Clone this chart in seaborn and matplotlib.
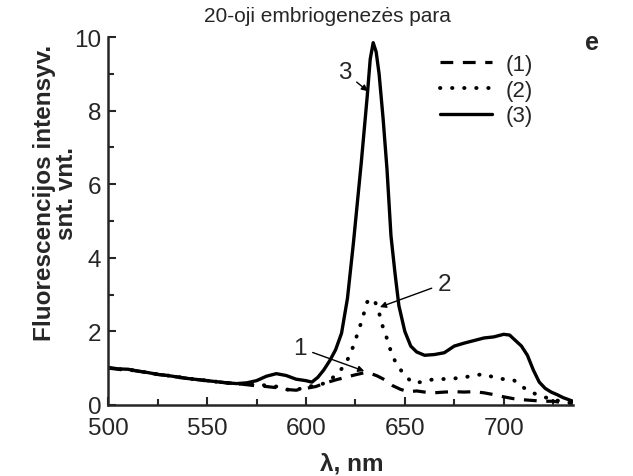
import matplotlib
matplotlib.use("Agg")
import matplotlib.pyplot as plt
import seaborn as sns
import pandas as pd
from matplotlib.ticker import MultipleLocator
from matplotlib.lines import Line2D

# ---- data ----
x3 = [500, 505, 510, 515, 520, 525, 530, 535, 540, 545, 550, 555, 560, 565, 570, 575, 580, 585,
      590, 595, 600, 603, 606, 609, 612, 615, 618, 621, 624, 626, 628, 630, 631, 632.5, 634,
      635.5, 637, 639, 641, 643, 645, 647, 650, 653, 656, 660, 665, 670, 675, 680, 685, 690,
      695, 700, 703, 706, 709, 712, 715, 718, 721, 724, 727, 730, 735]
y3 = [1.02, 0.98, 0.97, 0.92, 0.88, 0.83, 0.80, 0.76, 0.72, 0.69, 0.66, 0.63, 0.60, 0.58, 0.60,
      0.66, 0.78, 0.85, 0.80, 0.70, 0.66, 0.62, 0.75, 0.95, 1.20, 1.50, 1.95, 2.90, 4.40, 5.50,
      6.60, 7.80, 8.40, 9.40, 9.85, 9.60, 9.00, 7.80, 6.40, 4.60, 3.60, 2.70, 2.00, 1.60, 1.44,
      1.35, 1.37, 1.42, 1.60, 1.68, 1.75, 1.82, 1.85, 1.92, 1.90, 1.75, 1.60, 1.35, 0.95, 0.62,
      0.45, 0.35, 0.28, 0.20, 0.10]

x2 = [500, 505, 510, 515, 520, 525, 530, 535, 540, 545, 550, 555, 560, 565, 570, 575, 580, 585,
      590, 595, 600, 605, 610, 615, 620, 624, 628, 631, 633, 635, 637, 639, 641, 643, 645, 647,
      650, 654, 658, 662, 668, 675, 680, 685, 690, 695, 700, 705, 708, 712, 716, 720, 725, 730, 735]
y2 = [1.00, 0.97, 0.96, 0.92, 0.88, 0.83, 0.80, 0.76, 0.72, 0.69, 0.66, 0.63, 0.60, 0.58, 0.56,
      0.55, 0.53, 0.50, 0.42, 0.40, 0.50, 0.52, 0.60, 0.80, 1.10, 1.60, 2.25, 2.80, 2.90, 2.80,
      2.50, 2.10, 1.80, 1.45, 1.20, 1.02, 0.80, 0.60, 0.62, 0.68, 0.70, 0.72, 0.75, 0.80, 0.84,
      0.75, 0.70, 0.68, 0.55, 0.40, 0.30, 0.22, 0.15, 0.08, 0.05]

x1 = [500, 505, 510, 515, 520, 525, 530, 535, 540, 545, 550, 555, 560, 565, 570, 575, 580, 585,
      590, 595, 600, 605, 610, 615, 620, 625, 630, 633, 636, 640, 644, 648, 652, 656, 660, 665,
      670, 675, 680, 685, 690, 695, 700, 705, 710, 715, 720, 725, 730, 735]
y1 = [1.00, 0.97, 0.96, 0.92, 0.88, 0.83, 0.80, 0.76, 0.72, 0.69, 0.66, 0.63, 0.60, 0.58, 0.55,
      0.52, 0.50, 0.47, 0.42, 0.40, 0.45, 0.50, 0.60, 0.68, 0.75, 0.82, 0.88, 0.85, 0.79, 0.68,
      0.52, 0.42, 0.36, 0.38, 0.35, 0.33, 0.35, 0.36, 0.35, 0.36, 0.33, 0.28, 0.22, 0.17, 0.14,
      0.12, 0.10, 0.10, 0.06, 0.04]

legend_labels = ["(1)", "(2)", "(3)"]
x_ticks = [500, 550, 600, 650, 700]
y_ticks = [0, 2, 4, 6, 8, 10]

# ---- plotting ----
sns.set_style("ticks")
plt.rcParams["font.family"] = ["Liberation Sans", "DejaVu Sans"]

fig = plt.figure(figsize=(6.33, 4.77), dpi=100)
ax = fig.add_axes([0.171, 0.149, 0.734, 0.771])

dash_style = (0, (4, 3))
dot_style = (0, (0.1, 3.0))

df1 = pd.DataFrame({"x": x1, "y": y1})
df2 = pd.DataFrame({"x": x2, "y": y2})
df3 = pd.DataFrame({"x": x3, "y": y3})

sns.lineplot(data=df1, x="x", y="y", ax=ax, color="black", lw=2.3, linestyle=dash_style)
sns.lineplot(data=df2, x="x", y="y", ax=ax, color="black", lw=2.8, linestyle=dot_style,
             dash_capstyle="round")
sns.lineplot(data=df3, x="x", y="y", ax=ax, color="black", lw=2.4)

ax.set_xlim(500, 735)
ax.set_ylim(0, 10)
ax.set_xticks(x_ticks)
ax.set_yticks(y_ticks)
ax.xaxis.set_minor_locator(MultipleLocator(25))
ax.yaxis.set_minor_locator(MultipleLocator(1))
ax.tick_params(which="both", direction="in", width=1.5, labelsize=17.5, top=False, right=False)
ax.tick_params(which="major", length=6)
ax.tick_params(axis="x", which="major", pad=9)
ax.tick_params(axis="y", which="major", pad=5)
ax.tick_params(which="minor", length=4)
for s in ["left", "bottom"]:
    ax.spines[s].set_linewidth(1.8)
for s in ["top", "right"]:
    ax.spines[s].set_visible(False)

ax.set_xlabel("")
ax.set_ylabel("")
fig.text(0.556, 0.028, "λ, nm", ha="center", va="center", fontsize=17.5, fontweight="bold")
fig.text(0.088, 0.595, "Fluorescencijos intensyv.\nsnt. vnt.", rotation=90, ha="center",
         va="center", fontsize=17.5, fontweight="bold", multialignment="center", linespacing=0.95)
fig.text(0.517, 0.966, "20-oji embriogenezės para", ha="center", va="center", fontsize=15)
fig.text(0.935, 0.91, "e", ha="center", va="center", fontsize=18, fontweight="bold")

handles = [Line2D([], [], color="black", lw=2.3, linestyle=dash_style),
           Line2D([], [], color="black", lw=2.8, linestyle=dot_style, dash_capstyle="round"),
           Line2D([], [], color="black", lw=2.4)]
ax.legend(handles, legend_labels, loc="upper left", bbox_to_anchor=(0.695, 0.978), frameon=False,
          fontsize=16, handlelength=2.35, handletextpad=0.6, labelspacing=0.21, borderaxespad=0)

arrow = dict(arrowstyle="-|>", color="black", lw=1.0, mutation_scale=9, shrinkA=2, shrinkB=0)
ax.annotate("3", xy=(631.3, 8.53), xytext=(619.5, 9.05), fontsize=17.5, ha="center", va="center",
            arrowprops=arrow)
ax.annotate("1", xy=(629.5, 0.92), xytext=(597, 1.55), fontsize=17.5, ha="center", va="center",
            arrowprops=arrow)
ax.annotate("2", xy=(637.4, 2.66), xytext=(670, 3.3), fontsize=17.5, ha="center", va="center",
            arrowprops=arrow)

fig.savefig("out.png", dpi=100)
